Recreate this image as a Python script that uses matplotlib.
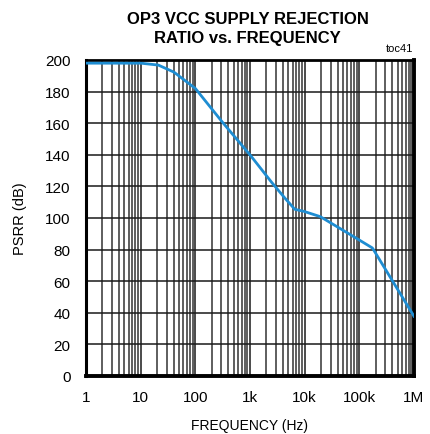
import numpy as np
import matplotlib
matplotlib.use("Agg")
import matplotlib.pyplot as plt
from matplotlib.ticker import FixedLocator, LogLocator, NullFormatter

plt.rcParams['font.family'] = ['Liberation Sans', 'DejaVu Sans']

# PSRR curve read at a handful of frequencies (Hz, dB)
freq_hz = [1, 10, 21, 40, 100, 282, 1000, 2300, 4000, 6600, 9300, 19000, 58000, 174000, 1e6]
psrr_db = [198, 198, 196.8, 192.5, 182, 162.5, 140, 124, 114, 105.5, 104.4, 101, 91, 81, 37.8]

x_ticks = [1, 10, 100, 1e3, 1e4, 1e5, 1e6]
x_labels = ['1', '10', '100', '1k', '10k', '100k', '1M']
y_ticks = list(range(0, 201, 20))

fig = plt.figure(figsize=(4.31, 4.35), dpi=100)
ax = fig.add_axes([86 / 431, 1 - 377 / 435, 328 / 431, 316 / 435])

# smooth the polyline a bit in log-frequency
lx = np.log10(freq_hz)
fine = np.linspace(lx[0], lx[-1], 400)
ax.plot(10 ** fine, np.interp(fine, lx, psrr_db), color='#1e8dd2', lw=2.0, zorder=3)

ax.set_xscale('log')
ax.set_xlim(1, 1e6)
ax.set_ylim(0, 200)

ax.xaxis.set_major_locator(FixedLocator(x_ticks))
ax.set_xticklabels(x_labels)
ax.xaxis.set_minor_locator(LogLocator(base=10, subs=np.arange(2, 10), numticks=20))
ax.xaxis.set_minor_formatter(NullFormatter())
ax.set_yticks(y_ticks)

ax.grid(True, which='major', axis='both', color='#1a1a1a', lw=1.1)
ax.grid(True, which='minor', axis='x', color='#333333', lw=1.1)
ax.tick_params(which='both', length=0, labelsize=11)
ax.tick_params(axis='x', pad=10)
ax.tick_params(axis='y', pad=11)

for side, w in (('left', 2.2), ('bottom', 2.8), ('right', 2.8), ('top', 2.0)):
    ax.spines[side].set_linewidth(w)
    ax.spines[side].set_color('black')

ax.set_xlabel('FREQUENCY (Hz)', fontsize=10, labelpad=10)
ax.set_ylabel('PSRR (dB)', fontsize=10.5, labelpad=13)

fig.text(0.575, 1 - 29 / 435, 'OP3 VCC SUPPLY REJECTION\nRATIO vs. FREQUENCY',
         ha='center', va='center', fontsize=12, fontweight='bold', linespacing=1.3)
fig.text(413 / 431, 1 - 49 / 435, 'toc41', ha='right', va='center', fontsize=8)

fig.savefig('out.png', dpi=100)
